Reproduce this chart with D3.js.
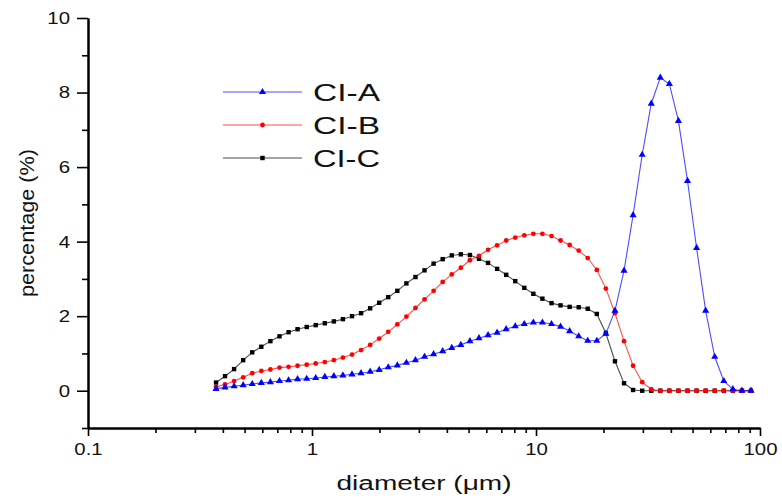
<!DOCTYPE html>
<html>
<head>
<meta charset="utf-8">
<script src="https://cdn.jsdelivr.net/npm/d3@7"></script>
<style>
    body { margin: 0; background: #fff; }
    text { font-family: "Liberation Sans", Arial, sans-serif; fill: #111; }
</style>
</head>
<body>
<div id="chart"></div>
<script>
// particle size bins (um)
var diameters = [0.373, 0.409, 0.449, 0.493, 0.541, 0.594, 0.652, 0.716, 0.786, 0.862,
                 0.947, 1.039, 1.141, 1.252, 1.374, 1.509, 1.656, 1.818, 1.995, 2.190,
                 2.404, 2.639, 2.897, 3.180, 3.491, 3.832, 4.207, 4.618, 5.069, 5.564,
                 6.108, 6.705, 7.360, 8.079, 8.868, 9.732, 10.68, 11.73, 12.87, 14.13,
                 15.51, 17.02, 18.69, 20.51, 22.52, 24.72, 27.13, 29.79, 32.69, 35.89,
                 39.39, 43.24, 47.47, 52.11, 57.20, 62.79, 68.92, 75.66, 83.05, 91.15];

var ciA = [0.05, 0.09, 0.12, 0.15, 0.18, 0.21, 0.23, 0.26, 0.28, 0.31,
           0.32, 0.34, 0.37, 0.39, 0.41, 0.44, 0.47, 0.51, 0.56, 0.63,
           0.68, 0.75, 0.82, 0.91, 0.98, 1.06, 1.15, 1.23, 1.33, 1.41,
           1.49, 1.56, 1.65, 1.73, 1.79, 1.83, 1.83, 1.79, 1.72, 1.60,
           1.46, 1.34, 1.34, 1.53, 2.15, 3.22, 4.71, 6.33, 7.70, 8.40,
           8.23, 7.24, 5.63, 3.83, 2.15, 0.91, 0.26, 0.04, 0.00, 0.00];

var ciB = [0.10, 0.17, 0.26, 0.36, 0.47, 0.53, 0.57, 0.62, 0.64, 0.67,
           0.70, 0.73, 0.77, 0.82, 0.89, 0.97, 1.09, 1.23, 1.40, 1.58,
           1.78, 1.99, 2.22, 2.45, 2.68, 2.92, 3.12, 3.30, 3.50, 3.62,
           3.78, 3.90, 4.03, 4.11, 4.17, 4.21, 4.21, 4.15, 4.03, 3.91,
           3.76, 3.56, 3.24, 2.74, 2.08, 1.33, 0.67, 0.23, 0.04, 0.00,
           0.00, 0.00, 0.00, 0.00, 0.00, 0.00, 0.00, 0.00, 0.00, 0.00];

var ciC = [0.22, 0.39, 0.58, 0.82, 1.03, 1.18, 1.33, 1.46, 1.57, 1.65,
           1.71, 1.76, 1.81, 1.86, 1.92, 2.00, 2.08, 2.21, 2.36, 2.51,
           2.68, 2.88, 3.05, 3.23, 3.41, 3.53, 3.63, 3.66, 3.64, 3.54,
           3.43, 3.27, 3.11, 2.94, 2.76, 2.60, 2.47, 2.35, 2.29, 2.25,
           2.24, 2.20, 2.06, 1.54, 0.79, 0.20, 0.02, 0.00, 0.00, 0.00,
           0.00, 0.00, 0.00, 0.00, 0.00, 0.00, 0.00, 0.00, 0.00, 0.00];

var seriesNames = ['CI-A', 'CI-B', 'CI-C'];

var xMajorTicks = [0.1, 1, 10, 100];
var xMinorTicks = [0.2, 0.3, 0.4, 0.5, 0.6, 0.7, 0.8, 0.9,
                   2, 3, 4, 5, 6, 7, 8, 9,
                   20, 30, 40, 50, 60, 70, 80, 90];
var yMajorTicks = [0, 2, 4, 6, 8, 10];
var yMinorTicks = [-1, 1, 3, 5, 7, 9];

(function () {
    'use strict';

    var W = 782, H = 502;
    var left = 88, right = 760, top = 18, bottom = 428;

    var svg = d3.select('#chart').append('svg')
                .attr('width', W)
                .attr('height', H);

    var x = d3.scaleLog().domain([0.1, 100]).range([left, right]);
    var y = d3.scaleLinear().domain([-1, 10]).range([bottom, top]);

    drawAxes();
    drawSeries();
    drawLegend();

    function drawAxes() {
        // minor ticks first, no labels
        svg.append('g')
           .attr('transform', 'translate(0,' + bottom + ')')
           .call(d3.axisBottom(x).tickValues(xMinorTicks).tickSize(5).tickSizeOuter(0).tickFormat(''))
           .call(styleAxis);

        var xa = svg.append('g')
           .attr('transform', 'translate(0,' + bottom + ')')
           .call(d3.axisBottom(x).tickValues(xMajorTicks).tickSize(8).tickSizeOuter(0)
                 .tickPadding(7).tickFormat(function (d) { return String(d); }))
           .call(styleAxis);
        xa.selectAll('.tick text')
          .attr('font-size', 17)
          .attr('transform', 'scale(1.2,1)');

        svg.append('g')
           .attr('transform', 'translate(' + left + ',0)')
           .call(d3.axisLeft(y).tickValues(yMinorTicks).tickSize(6).tickSizeOuter(0).tickFormat(''))
           .call(styleAxis);

        var ya = svg.append('g')
           .attr('transform', 'translate(' + left + ',0)')
           .call(d3.axisLeft(y).tickValues(yMajorTicks).tickSize(11).tickSizeOuter(0))
           .call(styleAxis);
        ya.selectAll('.tick text')
          .attr('font-size', 17)
          .attr('x', -15)
          .attr('transform', 'scale(1.2,1)');

        svg.append('text')
           .attr('x', (left + right) / 2)
           .attr('y', 490)
           .attr('text-anchor', 'middle')
           .attr('font-size', 20)
           .attr('textLength', 175)
           .attr('lengthAdjust', 'spacingAndGlyphs')
           .text('diameter (\u03bcm)');

        svg.append('text')
           .attr('transform', 'translate(34,' + ((top + bottom) / 2) + ') rotate(-90)')
           .attr('text-anchor', 'middle')
           .attr('font-size', 21)
           .attr('textLength', 148)
           .attr('lengthAdjust', 'spacingAndGlyphs')
           .text('percentage (%)');
    }

    function styleAxis(g) {
        g.select('.domain').attr('stroke', '#000').attr('stroke-width', 2);
        g.selectAll('.tick line').attr('stroke', '#000').attr('stroke-width', 1.6);
        g.selectAll('.tick text').attr('fill', '#111').attr('font-family', '"Liberation Sans", Arial, sans-serif');
    }

    function marker(sel, shape, color) {
        if (shape === 'circle') {
            sel.append('circle').attr('r', 2.4).attr('fill', color);
        } else if (shape === 'square') {
            sel.append('rect').attr('x', -2.2).attr('y', -2.2)
               .attr('width', 4.4).attr('height', 4.4).attr('fill', color);
        } else {
            sel.append('path').attr('d', d3.symbol(d3.symbolTriangle, 22)()).attr('fill', color);
        }
    }

    function series() {
        return [
            { name: seriesNames[0], values: ciA, color: '#0000ff', shape: 'triangle' },
            { name: seriesNames[1], values: ciB, color: '#ff0000', shape: 'circle' },
            { name: seriesNames[2], values: ciC, color: '#000000', shape: 'square' }
        ];
    }

    function drawSeries() {
        var line = d3.line()
                     .x(function (d) { return x(d[0]); })
                     .y(function (d) { return y(d[1]); });

        // C drawn first so that A sits on top
        series().slice().reverse().forEach(function (s) {
            var pts = diameters.map(function (dm, i) { return [dm, s.values[i]]; });
            var g = svg.append('g');
            g.append('path')
             .datum(pts)
             .attr('d', line)
             .attr('fill', 'none')
             .attr('stroke', s.color)
             .attr('stroke-opacity', 0.7)
             .attr('stroke-width', 1.1);
            g.selectAll('g.pt')
             .data(pts)
             .enter()
             .append('g')
             .attr('class', 'pt')
             .attr('transform', function (d) { return 'translate(' + x(d[0]) + ',' + y(d[1]) + ')'; })
             .each(function () { marker(d3.select(this), s.shape, s.color); });
        });
    }

    function drawLegend() {
        var lx0 = 223, lx1 = 302, ly0 = 92, dy = 33;
        series().forEach(function (s, i) {
            var ly = ly0 + i * dy;
            var g = svg.append('g');
            g.append('line')
             .attr('x1', lx0).attr('x2', lx1)
             .attr('y1', ly).attr('y2', ly)
             .attr('stroke', s.color)
             .attr('stroke-opacity', 0.7)
             .attr('stroke-width', 1.1);
            marker(g.append('g').attr('transform', 'translate(' + ((lx0 + lx1) / 2) + ',' + ly + ')'), s.shape, s.color);
            g.append('text')
             .attr('x', 313)
             .attr('y', ly + 8.5)
             .attr('font-size', 23.5)
             .attr('textLength', 67)
             .attr('lengthAdjust', 'spacingAndGlyphs')
             .text(s.name);
        });
    }
})();
</script>
</body>
</html>
